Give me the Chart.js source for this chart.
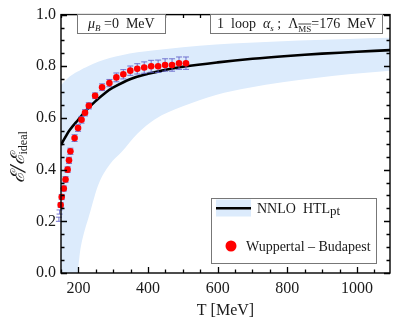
<!DOCTYPE html>
<html>
<head>
<meta charset="utf-8">
<script src="https://cdn.jsdelivr.net/npm/chart.js@4.4.1/dist/chart.umd.min.js"></script>
<style>
html,body{margin:0;padding:0;background:#fff;}
#wrap{width:409px;height:329px;position:relative;}
</style>
</head>
<body>
<div id="wrap"><canvas id="c" width="409" height="329"></canvas></div>
<script>
// Lattice (Wuppertal-Budapest) data
const T_LAT   = [144,146,149,152,158,163,169,173,177,189,199,209,219,230,248,268,289,309,329,349,369,389,409,429,449,469,489,509];
const E_LAT   = [0.208,0.236,0.263,0.294,0.327,0.362,0.400,0.436,0.471,0.522,0.561,0.593,0.620,0.647,0.686,0.719,0.735,0.757,0.769,0.783,0.790,0.795,0.800,0.800,0.805,0.805,0.812,0.812];
const ERR_LAT = [0.008,0.008,0.009,0.010,0.010,0.011,0.011,0.012,0.012,0.013,0.013,0.013,0.012,0.012,0.011,0.013,0.014,0.017,0.018,0.018,0.020,0.022,0.023,0.024,0.024,0.024,0.024,0.024];

// NNLO HTLpt central curve
const T_CURVE   = [150,160,175,200,225,250,275,300,350,400,450,500,600,700,800,900,1000,1100];
const E_CENTRAL = [0.495,0.520,0.553,0.594,0.633,0.666,0.695,0.718,0.751,0.771,0.786,0.798,0.815,0.829,0.840,0.849,0.856,0.863];

// NNLO HTLpt scale-variation band
const T_BAND  = [150,175,190,198,205,215,229,257,290,324,370,419,500,595,690,786,881,976,1100];
const E_UPPER = [0.727,0.760,0.774,0.780,0.785,0.792,0.801,0.818,0.832,0.843,0.854,0.862,0.874,0.884,0.891,0.897,0.902,0.906,0.911];
const E_LOWER = [-0.60,-0.25,-0.08,0.000,0.085,0.150,0.214,0.341,0.420,0.468,0.540,0.594,0.645,0.689,0.717,0.738,0.755,0.769,0.783];

const X_TICKS = [200,400,600,800,1000];
const Y_TICKS = [0,0.2,0.4,0.6,0.8,1.0];

const SERIF = '"Liberation Serif","Times New Roman",serif';
const BAND_COLOR = '#dcebfc';

function pts(xs, ys){ return xs.map((x,i)=>({x:x, y:ys[i]})); }

function richText(ctx, x, y, segs, align){
  let total = 0;
  segs.forEach(s=>{ ctx.font = s.font; total += ctx.measureText(s.text).width; });
  let cx = align === 'center' ? x - total/2 : x;
  segs.forEach(s=>{
    ctx.font = s.font;
    const w = ctx.measureText(s.text).width;
    ctx.fillText(s.text, cx, y + (s.dy||0));
    if (s.over){
      ctx.save(); ctx.lineWidth = 0.8; ctx.strokeStyle = ctx.fillStyle;
      ctx.beginPath(); ctx.moveTo(cx, y + (s.dy||0) - s.over); ctx.lineTo(cx + w, y + (s.dy||0) - s.over); ctx.stroke();
      ctx.restore();
    }
    cx += w;
  });
}

const errorBars = {
  id: 'errorBars',
  beforeDatasetDraw(chart, args){
    if (args.index !== 0) return;
    const ctx = chart.ctx, xs = chart.scales.x, ys = chart.scales.y;
    ctx.save();
    ctx.strokeStyle = 'rgba(95,95,200,0.85)';
    ctx.lineWidth = 1;
    T_LAT.forEach((t,i)=>{
      const px = xs.getPixelForValue(t);
      const y1 = ys.getPixelForValue(E_LAT[i] + ERR_LAT[i]);
      const y2 = ys.getPixelForValue(E_LAT[i] - ERR_LAT[i]);
      ctx.beginPath();
      ctx.moveTo(px, y1); ctx.lineTo(px, y2);
      ctx.moveTo(px-3, y1); ctx.lineTo(px+3, y1);
      ctx.moveTo(px-3, y2); ctx.lineTo(px+3, y2);
      ctx.stroke();
    });
    ctx.restore();
  }
};

function drawFrameTicks(chart){
  const ctx = chart.ctx, a = chart.chartArea, xs = chart.scales.x, ys = chart.scales.y;
  ctx.save();
  ctx.strokeStyle = '#000';
  ctx.lineWidth = 1.3;
  ctx.beginPath();
  for (let k = 0; k * 50 + 150 <= 1095; k++){
    const v = 150 + k * 50;
    const px = Math.round(xs.getPixelForValue(v)) + 0.5;
    const len = (v % 200 === 0) ? 6 : 3.5;
    ctx.moveTo(px, a.bottom); ctx.lineTo(px, a.bottom - len);
    ctx.moveTo(px, a.top); ctx.lineTo(px, a.top + len);
  }
  for (let i = 0; i <= 20; i++){
    const py = Math.round(ys.getPixelForValue(i * 0.05)) + 0.5;
    const len = (i % 4 === 0) ? 6 : 3.5;
    ctx.moveTo(a.left, py); ctx.lineTo(a.left + len, py);
    ctx.moveTo(a.right, py); ctx.lineTo(a.right - len, py);
  }
  ctx.stroke();
  ctx.lineWidth = 1.4;
  ctx.strokeRect(a.left, a.top, a.right - a.left, a.bottom - a.top);
  ctx.restore();
}

const decor = {
  id: 'decor',
  afterDraw(chart){
    const ctx = chart.ctx, a = chart.chartArea;
    drawFrameTicks(chart);
    ctx.save();
    // axis titles
    ctx.fillStyle = '#1a1a1a';
    ctx.textBaseline = 'middle'; ctx.textAlign = 'left';
    richText(ctx, (a.left + a.right)/2, 311, [{text:'T [MeV]', font:'16px '+SERIF}], 'center');
    ctx.save();
    ctx.translate(19, 157);
    ctx.rotate(-Math.PI/2);
    richText(ctx, 0, 0, [
      {text:'ℰ/ℰ', font:'italic 19px "DejaVu Serif",'+SERIF},
      {text:'ideal', font:'12px '+SERIF, dy:5}
    ], 'center');
    ctx.restore();

    // annotation boxes
    ctx.strokeStyle = '#777'; ctx.lineWidth = 1;
    ctx.fillStyle = '#fff';
    ctx.fillRect(77.5, 14.5, 88, 19); ctx.strokeRect(77.5, 14.5, 88, 19);
    ctx.fillRect(210.5, 14.5, 172, 19); ctx.strokeRect(210.5, 14.5, 172, 19);
    ctx.fillStyle = '#1a1a1a';
    ctx.textBaseline = 'alphabetic';
    richText(ctx, 88, 28, [
      {text:'μ', font:'italic 14px '+SERIF},
      {text:'B', font:'italic 9px '+SERIF, dy:3},
      {text:' =0  MeV', font:'14px '+SERIF}
    ]);
    richText(ctx, 217, 28, [
      {text:'1  loop  ', font:'14px '+SERIF},
      {text:'α', font:'italic 14px '+SERIF},
      {text:'s', font:'italic 9px '+SERIF, dy:3},
      {text:' ;  Λ', font:'14px '+SERIF},
      {text:'MS', font:'9px '+SERIF, dy:4, over:8},
      {text:'=176  MeV', font:'14px '+SERIF}
    ]);

    // legend
    ctx.strokeStyle = '#777'; ctx.fillStyle = '#fff'; ctx.lineWidth = 1;
    ctx.fillRect(211.5, 198.5, 165, 65); ctx.strokeRect(211.5, 198.5, 165, 65);
    const ds1 = chart.data.datasets[1], ds2 = chart.data.datasets[2], ds0 = chart.data.datasets[0];
    ctx.fillStyle = ds2.backgroundColor;
    ctx.fillRect(216, 199.5, 35, 17);
    ctx.strokeStyle = ds1.borderColor; ctx.lineWidth = ds1.borderWidth;
    ctx.beginPath(); ctx.moveTo(216, 208.3); ctx.lineTo(251, 208.3); ctx.stroke();
    ctx.fillStyle = ds0.pointBackgroundColor;
    ctx.beginPath(); ctx.arc(231, 246, 5.5, 0, Math.PI*2); ctx.fill();
    ctx.fillStyle = '#1a1a1a';
    richText(ctx, 257, 213, [
      {text:'NNLO  HTL', font:'14px '+SERIF},
      {text:'pt', font:'13px '+SERIF, dy:1.5}
    ]);
    richText(ctx, 246, 251, [{text:'Wuppertal – Budapest', font:'14px '+SERIF}]);
    ctx.restore();
  }
};

new Chart(document.getElementById('c'), {
  type: 'scatter',
  data: {
    datasets: [
      {
        label: 'Wuppertal – Budapest',
        data: pts(T_LAT, E_LAT),
        showLine: false,
        pointRadius: 3.3,
        pointBackgroundColor: '#ff0000',
        pointBorderWidth: 0,
        pointBorderColor: '#ff0000',
        clip: 8
      },
      {
        label: 'NNLO HTLpt',
        data: pts(T_CURVE, E_CENTRAL),
        showLine: true,
        borderColor: '#000',
        borderWidth: 2.6,
        pointRadius: 0,
        tension: 0.4,
        fill: false
      },
      {
        label: 'band upper',
        data: pts(T_BAND, E_UPPER),
        showLine: true,
        borderWidth: 0,
        borderColor: 'rgba(0,0,0,0)',
        backgroundColor: BAND_COLOR,
        pointRadius: 0,
        cubicInterpolationMode: 'monotone',
        fill: '+1'
      },
      {
        label: 'band lower',
        data: pts(T_BAND, E_LOWER),
        showLine: true,
        borderWidth: 0,
        borderColor: 'rgba(0,0,0,0)',
        pointRadius: 0,
        cubicInterpolationMode: 'monotone',
        fill: false
      }
    ]
  },
  options: {
    responsive: false,
    animation: false,
    devicePixelRatio: 1,
    layout: { padding: { top: 10, right: 19, left: 0, bottom: 0 } },
    plugins: { legend: { display: false }, tooltip: { enabled: false } },
    scales: {
      x: {
        type: 'linear', min: 150, max: 1095,
        grid: { display: false, drawTicks: false },
        border: { display: false },
        afterBuildTicks: s => { s.ticks = X_TICKS.map(v => ({ value: v })); },
        afterFit: s => { s.height = 56; },
        ticks: { font: { family: SERIF, size: 16 }, color: '#1a1a1a', padding: 6, maxRotation: 0, autoSkip: false, callback: v => String(v) }
      },
      y: {
        type: 'linear', min: 0, max: 1,
        grid: { display: false, drawTicks: false },
        border: { display: false },
        afterBuildTicks: s => { s.ticks = Y_TICKS.map(v => ({ value: v })); },
        afterFit: s => { s.width = 61; },
        ticks: { font: { family: SERIF, size: 16 }, color: '#1a1a1a', padding: 5, callback: v => Number(v).toFixed(1) }
      }
    }
  },
  plugins: [errorBars, decor]
});
</script>
</body>
</html>
